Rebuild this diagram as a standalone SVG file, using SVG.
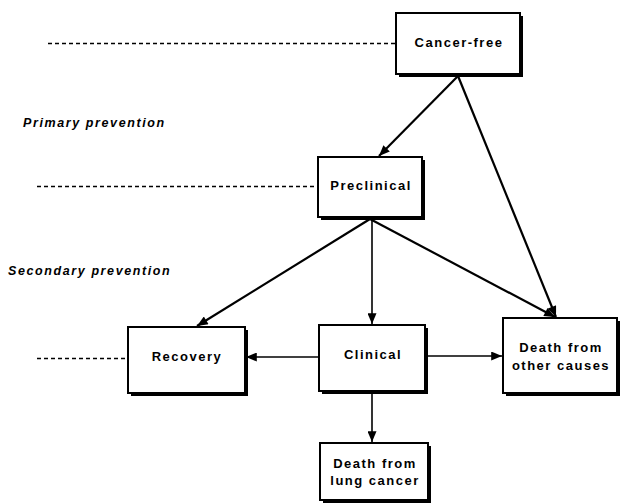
<svg xmlns="http://www.w3.org/2000/svg" width="622" height="504" viewBox="0 0 622 504">
<style>
.box{fill:#fff;stroke:#000;stroke-width:2}
.sh{fill:#000}
.t{font-family:"Liberation Sans",Arial,sans-serif;font-weight:bold;font-size:13px;letter-spacing:1.5px;text-anchor:middle;fill:#000}
.lab{font-family:"Liberation Sans",Arial,sans-serif;font-weight:bold;font-style:italic;font-size:12.5px;letter-spacing:1.6px;fill:#000}
.dash{stroke:#000;stroke-width:1.5;stroke-dasharray:4 3;fill:none}
.c{stroke:#000;stroke-width:2.2;fill:none}
.v{stroke:#000;stroke-width:1.6;fill:none}
</style>
<defs>
<marker id="ah" viewBox="0 0 12 10" refX="12" refY="5" markerWidth="12" markerHeight="9" orient="auto" markerUnits="userSpaceOnUse">
<path d="M0,0 L12,5 L0,10 z" fill="#000"/>
</marker>
</defs>
<rect width="622" height="504" fill="#fff"/>
<g id="labels">
<text class="lab" x="23" y="127">Primary prevention</text>
<text class="lab" x="8" y="275">Secondary prevention</text>
</g>
<g id="dashes">
<line class="dash" x1="48" y1="43.5" x2="396" y2="43.5"/>
<line class="dash" x1="37" y1="186.5" x2="318" y2="186.5"/>
<line class="dash" x1="37" y1="358.5" x2="128" y2="358.5"/>
</g>
<g id="connectors">
<line class="c" x1="458" y1="76" x2="379" y2="156" marker-end="url(#ah)"/>
<line class="c" x1="458" y1="76" x2="556" y2="317" marker-end="url(#ah)"/>
<line class="c" x1="370" y1="219" x2="197" y2="326" marker-end="url(#ah)"/>
<line class="v" x1="372" y1="219" x2="372" y2="324" marker-end="url(#ah)"/>
<line class="c" x1="370" y1="219" x2="555" y2="317" marker-end="url(#ah)"/>
<line class="v" x1="319" y1="357" x2="246" y2="357" marker-end="url(#ah)"/>
<line class="v" x1="425" y1="356" x2="502" y2="356" marker-end="url(#ah)"/>
<line class="v" x1="372" y1="392" x2="372" y2="442" marker-end="url(#ah)"/>
</g>
<g id="cancer-free">
<rect class="sh" x="399" y="16" width="124" height="61"/>
<rect class="box" x="396" y="13" width="124" height="61"/>
<text class="t" x="459" y="47">Cancer-free</text>
</g>
<g id="preclinical">
<rect class="sh" x="321" y="160" width="104" height="60"/>
<rect class="box" x="318" y="157" width="104" height="60"/>
<text class="t" x="371" y="190">Preclinical</text>
</g>
<g id="recovery">
<rect class="sh" x="131" y="330" width="117" height="66"/>
<rect class="box" x="128" y="327" width="117" height="66"/>
<text class="t" x="187" y="361">Recovery</text>
</g>
<g id="clinical">
<rect class="sh" x="322" y="328" width="106" height="66"/>
<rect class="box" x="319" y="325" width="106" height="66"/>
<text class="t" x="373" y="359">Clinical</text>
</g>
<g id="death-other">
<rect class="sh" x="506" y="321" width="114" height="75"/>
<rect class="box" x="503" y="318" width="114" height="75"/>
<text class="t" x="561" y="352">Death from</text>
<text class="t" x="561" y="370">other causes</text>
</g>
<g id="death-lung">
<rect class="sh" x="323" y="446" width="108" height="57"/>
<rect class="box" x="320" y="443" width="108" height="57"/>
<text class="t" x="375" y="468">Death from</text>
<text class="t" x="375" y="485">lung cancer</text>
</g>
</svg>
